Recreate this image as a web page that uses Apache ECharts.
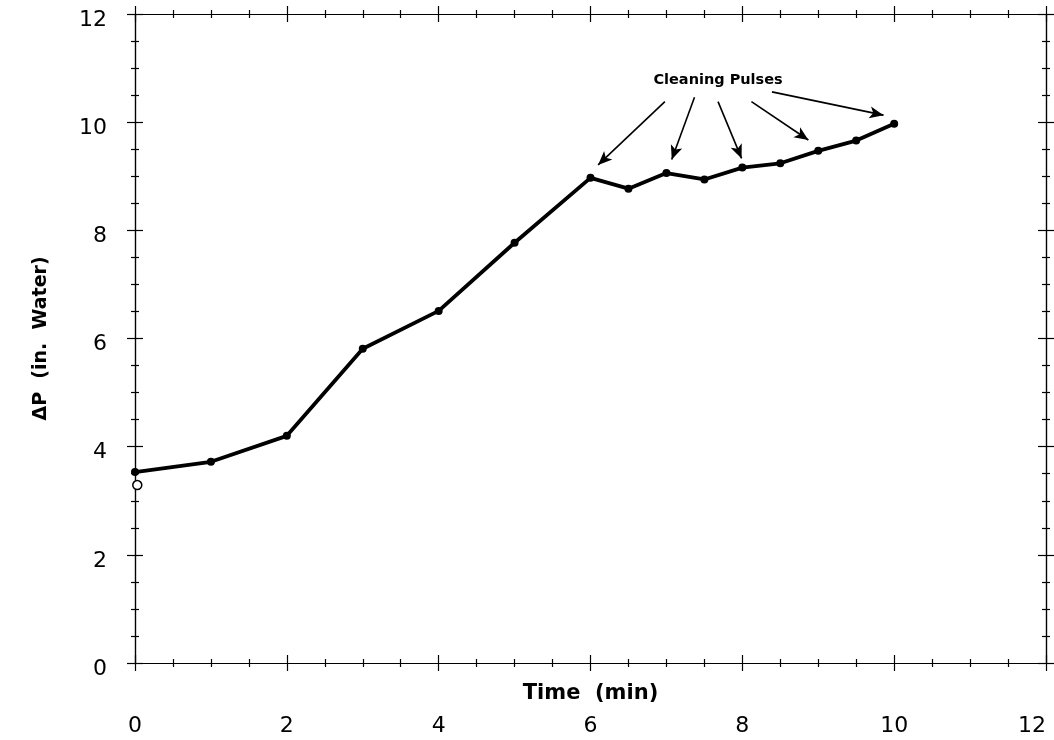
<!DOCTYPE html>
<html><head><meta charset="utf-8">
<script src="https://cdn.jsdelivr.net/npm/echarts@6/dist/echarts.min.js"></script>
<style>html,body{margin:0;padding:0;background:#fff}#c{width:1054px;height:740px}</style>
</head><body><div id="c"></div>
<script>
const timeMin = [0, 1, 2, 3, 4, 5, 6, 6.5, 7, 7.5, 8, 8.5, 9, 9.5, 10];
const deltaP = [3.53, 3.72, 4.2, 5.81, 6.51, 7.77, 8.97, 8.77, 9.06, 8.94, 9.16, 9.24, 9.47, 9.66, 9.97];
const openPoint = [[0.03, 3.29]];
const noteText = 'Cleaning Pulses';
const notePos = [7.68, 10.78];
const arrowStarts = [[6.98, 10.38], [7.37, 10.46], [7.68, 10.38], [8.12, 10.38], [8.39, 10.56]];
const arrowEnds = [[6.10, 9.21], [7.07, 9.31], [7.99, 9.33], [8.87, 9.67], [9.86, 10.13]];
const xTicks = [0, 2, 4, 6, 8, 10, 12];
const yTicks = [0, 2, 4, 6, 8, 10, 12];

const FONT = 'DejaVu Sans';
function xAx(grid, pos, inside, labels) {
  return {
    type: 'value', show: true, gridIndex: grid, position: pos, min: xTicks[0], max: xTicks[xTicks.length - 1], interval: 2,
    name: labels ? 'Time  (min)' : '', nameLocation: 'middle', nameGap: 20, nameMoveOverlap: false,
    nameTextStyle: { fontFamily: FONT, fontSize: 21, fontWeight: 'bold', color: '#000', verticalAlign: 'top' },
    axisLine: { show: true, onZero: false, lineStyle: { color: '#000', width: 1.2 } },
    axisTick: { show: true, inside: inside, length: 8, lineStyle: { color: '#000', width: 1.2 } },
    minorTick: { show: true, splitNumber: 4, length: 4, lineStyle: { color: '#000', width: 1.2 } },
    axisLabel: { show: labels, margin: 52, fontFamily: FONT, fontSize: 22, color: '#000', alignMaxLabel: 'right' },
    splitLine: { show: false }
  };
}
function yAx(grid, pos, inside, labels) {
  return {
    type: 'value', show: true, gridIndex: grid, position: pos, min: yTicks[0], max: yTicks[yTicks.length - 1], interval: 2,
    name: labels ? 'ΔP  (in.  Water)' : '', nameLocation: 'middle', nameGap: 84, nameMoveOverlap: false,
    nameTextStyle: { fontFamily: FONT, fontSize: 19, fontWeight: 'bold', color: '#000' },
    axisLine: { show: true, onZero: false, lineStyle: { color: '#000', width: 1.2 } },
    axisTick: { show: true, inside: inside, length: 8, lineStyle: { color: '#000', width: 1.2 } },
    minorTick: { show: true, splitNumber: 4, length: 4, lineStyle: { color: '#000', width: 1.2 } },
    axisLabel: { show: labels, margin: 28, fontFamily: FONT, fontSize: 22, color: '#000', verticalAlign: 'top', lineHeight: 12 },
    splitLine: { show: false }
  };
}
const gridBox = { left: 135, right: 8, top: 14, bottom: 77, containLabel: false, outerBoundsMode: 'none' };

function dummy(i) {
  return { type: 'line', xAxisIndex: i, yAxisIndex: i, data: [], silent: true, symbol: 'none' };
}

const chart = echarts.init(document.getElementById('c'), null, { renderer: 'canvas' });
chart.setOption({
  animation: false,
  backgroundColor: '#fff',
  grid: [Object.assign({}, gridBox), Object.assign({}, gridBox)],
  xAxis: [xAx(0, 'bottom', false, true), xAx(0, 'top', false, false), xAx(1, 'bottom', true, false), xAx(1, 'top', true, false)],
  yAxis: [yAx(0, 'left', false, true), yAx(0, 'right', false, false), yAx(1, 'left', true, false), yAx(1, 'right', true, false)],
  series: [
    {
      type: 'line', xAxisIndex: 0, yAxisIndex: 0,
      data: timeMin.map((t, i) => [t, deltaP[i]]),
      symbol: 'circle', symbolSize: 8,
      itemStyle: { color: '#000' },
      lineStyle: { color: '#000', width: 3.8 },
      z: 5
    },
    {
      type: 'scatter', xAxisIndex: 0, yAxisIndex: 0,
      data: openPoint, symbol: 'circle', symbolSize: 9,
      itemStyle: { color: '#fff', borderColor: '#000', borderWidth: 1.5, opacity: 1 },
      z: 6
    },
    {
      type: 'scatter', xAxisIndex: 0, yAxisIndex: 0,
      data: [notePos], symbolSize: 0,
      itemStyle: { opacity: 1, color: '#000' },
      label: { show: true, position: 'inside', formatter: noteText, fontFamily: FONT, fontSize: 14.5, fontWeight: 600, color: '#000' },
      markLine: {
        silent: true, symbol: ['none', 'arrow'], symbolSize: [9, 14],
        label: { show: false },
        lineStyle: { color: '#000', width: 1.6, type: 'solid', opacity: 1 },
        data: arrowStarts.map((s, i) => [{ coord: s }, { coord: arrowEnds[i] }])
      }
    },
    dummy(1), dummy(2), dummy(3)
  ]
});
</script>
</body></html>
